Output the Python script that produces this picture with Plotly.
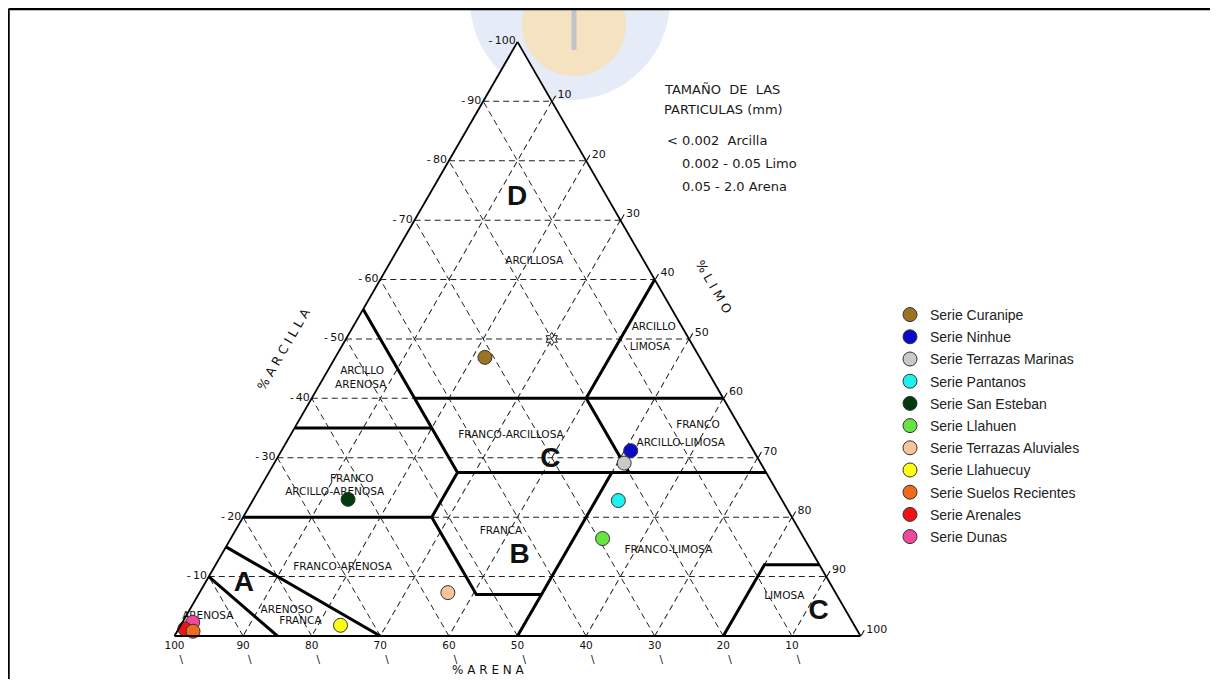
import plotly.graph_objects as go

# la pagina deja 8 px de margen, la figura se dibuja desde (8, 8)
W, H = 1202, 671
OX, OY = 8, 8


def fx(px):
    return (px - OX) / W


def fy(py):
    return 1 - (py - OY) / H


# muestras por serie de suelo (% arcilla, % arena, % limo)
series = ["Serie Curanipe", "Serie Ninhue", "Serie Terrazas Marinas", "Serie Pantanos",
          "Serie San Esteban", "Serie Llahuen", "Serie Terrazas Aluviales", "Serie Llahuecuy",
          "Serie Suelos Recientes", "Serie Arenales", "Serie Dunas"]
arcilla = [46.9, 31.2, 29.1, 22.8, 23.0, 16.4, 7.3, 1.8, 0.8, 1.2, 2.3]
arena = [31.3, 17.9, 19.9, 23.9, 63.2, 29.4, 56.5, 74.9, 96.9, 97.9, 96.2]
limo = [21.8, 50.9, 51.0, 53.3, 13.8, 54.2, 36.2, 23.3, 2.3, 0.9, 1.5]
colores = ["#9c7421", "#0a0ac8", "#c9c9c9", "#1ff0f0", "#033a0c", "#66e442",
           "#f8c49a", "#ffff10", "#f06a1c", "#ee1414", "#f0489c"]
orden_dibujo = [0, 1, 2, 3, 4, 5, 6, 7, 10, 9, 8]

# limites de clases texturales, cada tramo como puntos (arcilla, arena, limo)
limites = [
    [(10, 90, 0), (0, 85, 15)],
    [(15, 85, 0), (0, 70, 30)],
    [(20, 80, 0), (20, 52.5, 27.5), (7, 52.5, 40.5), (7, 43, 50)],
    [(27.5, 22.5, 50), (0, 50, 50)],
    [(20, 52.5, 27.5), (27.5, 45, 27.5), (55, 45, 0)],
    [(35, 65, 0), (35, 45, 20)],
    [(40, 45, 15), (40, 0, 60)],
    [(27.5, 45, 27.5), (27.5, 0, 72.5)],
    [(27.5, 20, 52.5), (40, 20, 40), (60, 0, 40)],
    [(0, 20, 80), (12, 8, 80), (12, 0, 88)],
]

etiquetas = ["ARCILLOSA", "ARCILLO", "LIMOSA", "ARCILLO", "ARENOSA", "FRANCO-ARCILLOSA",
             "FRANCO", "ARCILLO-LIMOSA", "FRANCO", "ARCILLO-ARENOSA", "FRANCA",
             "FRANCO-LIMOSA", "FRANCO-ARENOSA", "ARENOSA", "ARENOSO", "FRANCA", "LIMOSA"]
etq_arcilla = [63.1, 51.9, 48.6, 44.5, 42.1, 33.7, 35.4, 32.4, 26.3, 24.1, 17.6, 14.4, 11.6, 3.3, 4.3, 2.5, 6.6]
etq_arena = [16.0, 4.2, 6.4, 50.4, 51.8, 34.1, 6.0, 10.0, 61.0, 64.6, 43.6, 20.8, 69.7, 93.5, 81.5, 80.4, 7.8]
etq_limo = [20.9, 43.9, 45.0, 5.1, 6.1, 32.2, 58.6, 57.6, 12.7, 11.3, 38.8, 64.8, 18.7, 3.2, 14.2, 17.1, 85.6]

letras = ["D", "C", "B", "A", "C"]
let_arcilla = [73.7, 29.6, 13.4, 8.8, 4.0]
let_arena = [13.2, 30.4, 43.0, 85.5, 4.1]
let_limo = [13.1, 40.0, 43.6, 5.7, 91.9]

marcas = list(range(10, 101, 10))

fig = go.Figure()

for tramo in limites:
    fig.add_trace(go.Scatterternary(
        a=[p[0] for p in tramo], b=[p[1] for p in tramo], c=[p[2] for p in tramo],
        mode="lines", line=dict(color="black", width=3),
        showlegend=False, hoverinfo="skip"))

# estrella del centro de la clase arcillosa
fig.add_trace(go.Scatterternary(
    a=[50], b=[20], c=[30], mode="markers",
    marker=dict(symbol="hexagram-open", size=10, color="#222", line=dict(width=1)),
    showlegend=False, hoverinfo="skip"))

fig.add_trace(go.Scatterternary(
    a=etq_arcilla, b=etq_arena, c=etq_limo, mode="text", text=etiquetas,
    textfont=dict(family="DejaVu Sans", size=10.5, color="#111"),
    cliponaxis=False, showlegend=False, hoverinfo="skip"))

fig.add_trace(go.Scatterternary(
    a=let_arcilla, b=let_arena, c=let_limo, mode="text", text=letras,
    textfont=dict(family="Liberation Sans", size=28, color="#111", weight="bold"),
    cliponaxis=False, showlegend=False, hoverinfo="skip"))

for i in orden_dibujo:
    fig.add_trace(go.Scatterternary(
        a=[arcilla[i]], b=[arena[i]], c=[limo[i]], mode="markers", name=series[i],
        legendgroup=series[i], legendrank=i + 1, cliponaxis=False,
        marker=dict(size=14, color=colores[i], line=dict(color="#333", width=1))))

eje = dict(
    tickmode="array", tickvals=marcas, showgrid=True, gridcolor="#222", gridwidth=1.3,
    griddash="6px,4px", showline=True, linecolor="black", linewidth=1.8,
    tickfont=dict(family="DejaVu Sans", size=11, color="#111"), title=dict(text=""),
    min=0,
)

fig.update_layout(
    width=W, height=H,
    margin=dict(l=0, r=0, t=0, b=0),
    paper_bgcolor="white",
    ternary=dict(
        sum=100,
        bgcolor="white",
        domain=dict(x=[fx(174.5), fx(860.5)], y=[fy(636), fy(41.9)]),
        aaxis=dict(eje, ticktext=["-\u2009" + str(v) for v in marcas], ticks=""),
        baxis=dict(eje, ticktext=[f"{v}<br>\u00a0\u00a0\u00a0\u00a0\\" for v in marcas], ticks="",
                   tickfont=dict(family="DejaVu Sans", size=10.5, color="#111")),
        caxis=dict(eje, ticktext=[str(v) for v in marcas], ticks="outside",
                   ticklen=6, tickcolor="black", tickwidth=1),
    ),
    legend=dict(
        x=fx(890), y=fy(299), xanchor="left", yanchor="top",
        font=dict(family="Liberation Sans", size=14, color="#222"),
        tracegroupgap=1, bgcolor="rgba(0,0,0,0)",
    ),
    showlegend=True,
)

# logo de fondo y marco
fig.add_shape(type="circle", xref="paper", yref="paper",
              x0=fx(470), x1=fx(670), y0=fy(100), y1=fy(-100),
              fillcolor="rgba(190,206,234,0.4)", line=dict(width=0), layer="below")
fig.add_shape(type="circle", xref="paper", yref="paper",
              x0=fx(522), x1=fx(626), y0=fy(76), y1=fy(-28),
              fillcolor="rgba(251,222,168,0.7)", line=dict(width=0), layer="below")
fig.add_shape(type="line", xref="paper", yref="paper",
              x0=fx(574), x1=fx(574), y0=fy(50), y1=fy(0),
              line=dict(color="rgba(150,172,210,0.55)", width=5), layer="below")
fig.add_shape(type="line", xref="paper", yref="paper",
              x0=0.5 / W, x1=1, y0=fy(9), y1=fy(9),
              line=dict(color="black", width=2.5))
fig.add_shape(type="line", xref="paper", yref="paper",
              x0=0.5 / W, x1=0.5 / W, y0=0, y1=fy(9),
              line=dict(color="black", width=2.5))

nota = dict(family="DejaVu Sans", size=13, color="#1a1a1a")
textos = [
    ("TAMAÑO\u00a0\u00a0DE\u00a0\u00a0LAS", 662, 89),
    ("PARTICULAS (mm)", 662, 109),
    ("<\u00a00.002\u00a0\u00a0Arcilla", 665, 141),
    ("0.002 - 0.05 Limo", 680, 163),
    ("0.05 - 2.0 Arena", 680, 186),
]
for txt, px, py in textos:
    fig.add_annotation(text=txt, x=fx(px), y=fy(py), xref="paper", yref="paper",
                       xanchor="left", yanchor="middle", showarrow=False, font=nota)

titulos = [("% A R C I L L A", 283, 349, -60, 12.5), ("% L I M O", 714, 286, 60, 12.5),
           ("% A R E N A", 488, 670, 0, 12)]
for txt, px, py, ang, tam in titulos:
    fig.add_annotation(text=txt, x=fx(px), y=fy(py), xref="paper", yref="paper",
                       xanchor="center", yanchor="middle", showarrow=False, textangle=ang,
                       font=dict(family="DejaVu Sans", size=tam, color="#111"))

fig.write_html("out.html")
